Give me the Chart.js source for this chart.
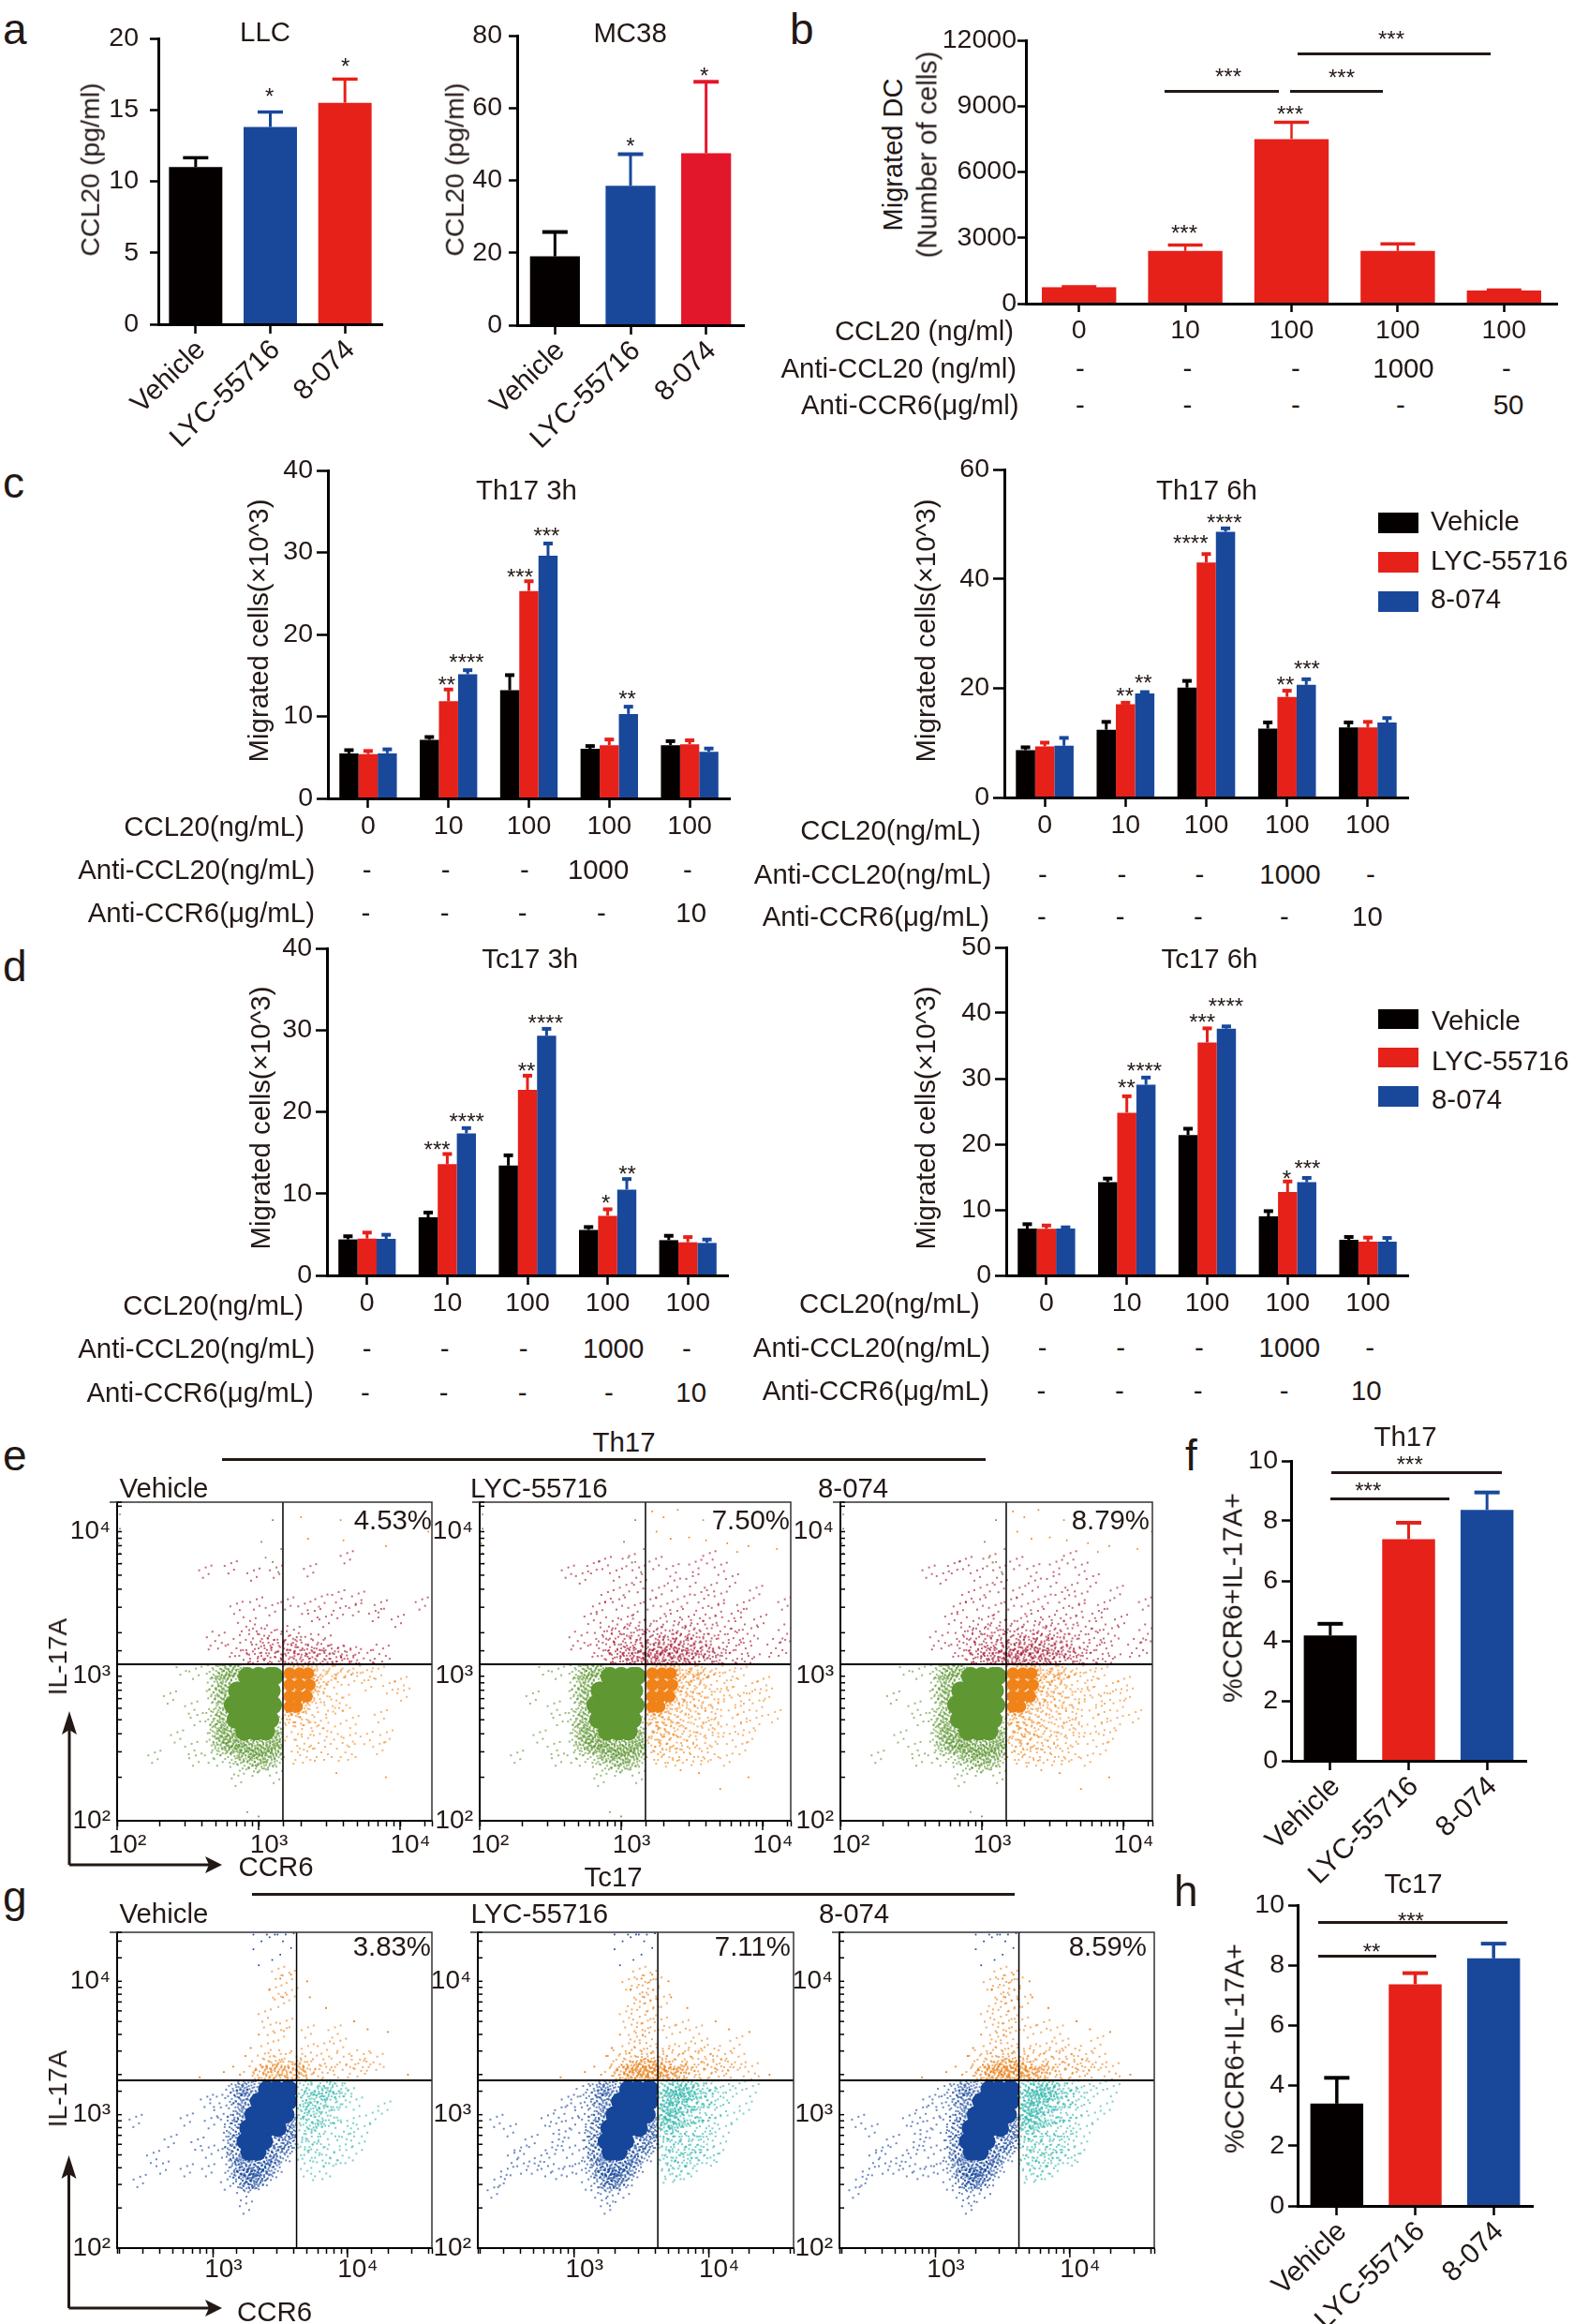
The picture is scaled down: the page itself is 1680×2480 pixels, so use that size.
<!DOCTYPE html>
<html><head><meta charset="utf-8">
<script src="https://cdn.jsdelivr.net/npm/chart.js@4"></script>
<style>
html,body{margin:0;background:#fff}
#page{position:relative;width:1680px;height:2480px;overflow:hidden;font-family:"Liberation Sans",Arial,sans-serif}
canvas{position:absolute}
.t{position:absolute;white-space:pre;line-height:1;color:#231815}
.b{position:absolute;background:#231815}
svg{position:absolute;left:0;top:0}
</style></head><body><div id="page"></div>
<script>
/* ---------- data ---------- */
const treatments=['Vehicle','LYC-55716','8-074'];
const llcMean=[11,13.8,15.5], llcTop=[11.7,14.9,17.2];
const mcMean=[19,38.5,47.5], mcTop=[26,47.5,67.5];
const dcDoses=['0','10','100','100','100'];
const dcMean=[750,2400,7500,2400,600], dcTop=[800,2700,8300,2750,650];
const dcRow2=['-','-','-','1000','-'], dcRow3=['-','-','-','-','50'];
const doses=['0','10','100','100','100'];
const antiCcl=['-','-','-','1000','-'], antiCcr=['-','-','-','-','10'];

const th3V=[5.5,7.15,13.2,6.05,6.5], th3VTop=[6,7.6,15.15,6.5,7.1];
const th3R=[5.4,11.85,25.3,6.5,6.6], th3RTop=[5.9,13.4,26.6,7.3,7.2];
const th3B=[5.5,15.15,29.6,10.3,5.7], th3BTop=[6.1,15.75,31.2,11.3,6.2];

const th6V=[8.67,12.4,20.1,12.6,12.8], th6VTop=[9.35,14,21.5,13.9,13.9];
const th6R=[9.35,17.05,43,18.4,12.8], th6RTop=[10.2,17.5,44.7,19.7,14];
const th6B=[9.47,19.05,48.6,20.6,13.7], th6BTop=[11.07,19.45,49.4,21.8,14.7];

const tc3V=[4.4,7.1,13.43,5.57,4.31], tc3VTop=[4.9,7.8,14.8,6.03,4.96];
const tc3R=[4.5,13.6,22.7,7.29,4.05], tc3RTop=[5.35,14.96,24.54,8.2,4.8];
const tc3B=[4.47,17.37,29.3,10.5,3.97], tc3BTop=[5.08,18.13,30.27,11.9,4.5];

const tc6V=[7.14,14.2,21.4,9,5.42], tc6VTop=[7.95,14.9,22.5,9.94,6];
const tc6R=[7.09,24.8,35.5,12.7,5.14], tc6RTop=[7.75,27.45,37.8,14.46,5.9];
const tc6B=[7.14,29.07,37.6,14.2,5.14], tc6BTop=[7.47,30.3,38.1,15,5.85];

const fMean=[4.18,7.39,8.37], fTop=[4.6,7.97,8.98];
const hMean=[3.4,7.37,8.23], hTop=[4.29,7.77,8.75];

const thPercent=['4.53%','7.50%','8.79%'], tcPercent=['3.83%','7.11%','8.59%'];
const decadeLabels={100:'10\u00b2',1000:'10\u00b3',10000:'10\u2074'};

/* flow cytometry event clusters, as log10(CCR6), log10(IL-17A) */
const thGreenCore=[2.92,3.0,3.0,3.0,3.08,3.0,3.11,3.0,2.85,2.9,2.93,2.9,3.01,2.9,3.09,2.9,2.82,2.8,2.9,2.8,2.98,2.8,3.06,2.8,3.1,2.8,2.84,2.7,2.92,2.7,3.0,2.7,3.08,2.7,2.9,2.62,2.98,2.62,3.05,2.62];
const thOrangeCore=[3.22,3.02,3.29,3.02,3.35,3.02,3.22,2.94,3.29,2.94,3.36,2.94,3.22,2.86,3.28,2.86,3.34,2.86,3.22,2.79,3.27,2.79];
const thGreenFringe=[2.74,3.02,2.76,2.95,2.71,2.88,2.78,2.84,2.73,2.79,2.69,2.72,2.77,2.7,2.72,2.64,2.78,2.6,2.75,2.56,2.81,2.53,2.84,2.57,2.87,2.49,2.9,2.53,2.93,2.47,2.96,2.5,2.99,2.45,3.02,2.52,3.05,2.47,3.08,2.55,3.12,2.5,3.15,2.58,3.14,2.66,2.79,3.05,2.82,3.07,2.7,2.93,2.74,2.52,2.83,2.46,2.92,2.42,3.0,2.4,3.06,2.42,3.11,2.44,2.8,3.02,2.76,2.88,2.74,2.68,2.8,2.56,2.86,2.54,2.98,2.52,3.1,2.56,3.16,2.52,2.7,3.05,2.7,2.58,2.86,3.06];
const thGreenDots=[2.55,3.02,2.5,2.94,2.46,3.05,2.58,2.86,2.52,2.78,2.44,2.8,2.56,2.7,2.5,2.62,2.42,2.58,2.58,2.56,2.52,2.5,2.3,2.62,2.26,2.44,2.45,2.45,2.55,2.42,2.62,2.5,2.66,2.44,2.6,2.38,2.72,2.42,2.78,2.38,2.84,2.36,2.9,2.33,2.97,2.35,3.07,2.33,3.12,2.3,2.95,2.22,2.85,2.28,2.34,2.98,2.37,2.85];
const thGreenTop=[2.92,2.06,3.0,2.03,3.1,4.08,3.02,3.93,3.05,3.82,3.1,3.79,3.14,3.72,3.16,3.88,2.02,4.12,2.02,4.02,2.01,3.92,2.02,3.85,2.03,3.78];
const thOrangeDots=[3.18,2.72,3.21,2.68,3.24,2.74,3.27,2.65,3.3,2.72,3.33,2.62,3.36,2.7,3.39,2.78,3.42,2.98,3.45,2.84,3.48,3.02,3.5,2.9,3.53,2.8,3.56,2.95,3.59,3.05,3.62,2.86,3.65,2.98,3.68,2.78,3.71,3.04,3.74,2.88,3.77,2.94,3.8,2.75,3.84,3.02,3.88,2.85,3.92,2.92,3.97,2.8,4.02,2.87,4.08,2.72,3.42,2.9,3.46,2.74,3.4,2.84,3.44,3.05,3.52,2.98,3.55,3.03,3.58,2.82,3.62,2.72,3.66,2.68,3.7,2.88,3.76,3.01,3.82,2.84,3.86,2.72,3.95,2.68,4.0,2.95,3.2,2.58,3.24,2.62,3.28,2.55,3.33,2.54,3.38,2.6,3.42,2.66,3.47,2.56,3.52,2.62,3.58,2.65,3.64,2.56,3.7,2.62,3.76,2.57,3.84,2.64,3.9,2.58,3.22,2.48,3.3,2.46,3.37,2.44,3.45,2.48,3.55,2.45,3.62,2.48,3.74,2.42,3.85,2.5,3.35,3.06,3.42,3.06,3.5,3.06,3.6,3.06];
const thOrangeFar=[3.18,2.44,3.42,2.35,3.55,2.33,3.7,2.22,3.9,2.3,3.25,4.0,3.35,3.95,3.48,3.96,3.6,3.94,3.75,3.92,3.9,3.9,4.1,3.88,3.3,4.1,3.4,4.15,4.2,4.0,3.22,4.14,3.58,4.08,3.82,3.86];
const thRedDots=[2.9,3.12,2.95,3.1,2.98,3.16,3.02,3.11,3.05,3.2,3.08,3.13,3.1,3.1,3.13,3.18,3.15,3.11,3.18,3.1,3.2,3.15,3.22,3.11,3.24,3.22,3.26,3.13,3.28,3.1,3.3,3.17,3.32,3.12,3.34,3.26,3.36,3.1,3.38,3.15,3.4,3.2,3.42,3.11,3.44,3.16,3.46,3.28,3.48,3.12,3.5,3.19,3.53,3.1,3.56,3.24,3.59,3.14,3.62,3.3,3.65,3.11,3.7,3.2,3.75,3.13,3.8,3.27,3.86,3.16,3.92,3.1,2.85,3.2,2.88,3.28,2.92,3.35,2.96,3.24,3.0,3.3,3.04,3.38,3.07,3.27,3.11,3.34,3.14,3.26,3.19,3.33,3.23,3.29,3.27,3.37,3.31,3.24,3.35,3.32,3.39,3.42,3.43,3.3,3.47,3.38,3.52,3.33,3.57,3.44,3.62,3.37,3.68,3.46,3.74,3.35,3.82,3.42,3.9,3.3,3.98,3.38,4.1,3.2,2.7,3.25,2.78,3.4,2.84,3.47,2.9,3.55,2.98,3.5,3.03,3.6,3.09,3.46,3.13,3.62,3.2,3.5,3.26,3.58,3.32,3.47,3.37,3.63,3.44,3.52,3.5,3.66,3.56,3.55,3.63,3.6,3.7,3.54,3.78,3.66,3.86,3.48,3.95,3.58,4.15,3.5,4.18,3.3,2.62,3.72,2.72,3.68,2.8,3.75,2.88,3.78,2.96,3.7,3.05,3.8,3.12,3.72,3.24,3.78,3.36,3.73,3.52,3.76,3.62,3.82,3.7,3.74,3.0,3.13,3.06,3.12,3.12,3.14,3.17,3.17,3.21,3.19,3.25,3.12,3.29,3.16,3.33,3.21,3.37,3.13,3.41,3.14,3.45,3.23,3.49,3.1,3.54,3.16,3.58,3.21,3.63,3.15,3.68,3.11];
const tcBlueCore=[3.40,3.19,3.47,3.19,3.55,3.19,3.565,3.19,3.34,3.1,3.42,3.1,3.5,3.1,3.56,3.1,3.3,3.0,3.38,3.0,3.46,3.0,3.54,3.0,3.26,2.9,3.33,2.9,3.41,2.9,3.48,2.9,3.24,2.8,3.31,2.8,3.38,2.8,3.27,2.72,3.33,2.72];
const tcTealCore=[3.66,3.2,3.66,3.12,3.66,3.04,3.72,3.2,3.72,3.1,3.78,3.2,3.78,3.11,3.7,3.02,3.84,3.18,3.66,2.96,3.74,2.96];
const tcBlueFringe=[3.25,3.22,3.28,3.18,3.22,3.12,3.25,3.05,3.18,3.02,3.21,2.97,3.15,2.9,3.18,2.84,3.14,2.78,3.17,2.72,3.19,2.64,3.23,2.6,3.28,2.58,3.33,2.62,3.38,2.66,3.42,2.7,3.46,2.76,3.52,2.8,3.56,2.85,3.6,2.9,3.58,2.78,3.5,2.7,3.44,2.62,3.36,2.56,3.3,2.52,3.24,2.55,3.2,2.7,3.16,3.16,3.2,3.2,3.16,2.6,3.22,2.52,3.27,2.49,3.33,2.52,3.4,2.58,3.52,2.92,3.56,2.95];
const tcBlueDots=[2.95,3.1,2.9,3.02,2.98,2.94,2.86,2.9,2.8,2.96,2.93,2.84,2.88,2.78,2.83,2.72,2.96,2.72,2.75,2.66,2.68,2.8,2.6,2.72,2.55,2.68,2.7,2.6,2.8,2.58,2.88,2.56,2.96,2.58,3.03,2.6,2.62,2.6,2.5,2.56,2.45,2.5,2.4,2.42,2.42,2.95,2.52,2.88,3.1,2.48,3.17,2.42,3.22,2.4,3.28,2.36,3.24,2.3,3.38,2.42,3.1,2.95,3.08,2.85,3.05,3.02,3.12,3.08,3.08,2.72,3.1,2.64,3.02,3.1,3.06,3.18];
const tcBlueTop=[3.3,4.24,3.36,4.3,3.42,4.33,3.48,4.35,3.52,4.3,3.5,4.2,3.44,4.16,3.58,4.25,3.34,4.12,3.54,4.35,3.6,4.36,3.3,4.35,3.4,4.35,3.46,4.35];
const tcTealDots=[3.63,3.0,3.65,2.9,3.67,2.82,3.69,2.97,3.72,2.9,3.74,3.04,3.76,2.8,3.78,2.97,3.8,3.22,3.82,3.08,3.84,2.88,3.86,3.17,3.88,3.0,3.9,2.74,3.92,3.1,3.94,2.92,3.96,3.2,3.98,3.02,4.0,2.82,4.02,3.12,4.04,2.94,4.06,3.22,4.08,2.75,4.1,3.04,4.12,2.88,4.15,3.15,4.18,2.98,4.22,3.2,4.27,3.05,4.32,3.18,3.64,2.76,3.68,2.7,3.72,2.74,3.76,2.66,3.8,2.72,3.84,2.62,3.88,2.68,3.92,2.78,3.97,2.7,4.03,2.66,3.66,2.6,3.72,2.56,3.8,2.58,3.78,2.88,3.82,2.98,3.86,2.78,3.9,3.18,3.94,3.02,3.98,2.88,4.02,3.22,4.06,3.08,4.1,3.18,3.74,3.24,3.84,3.23,3.92,3.24,3.68,2.88,3.74,2.95,3.8,3.06,3.86,3.0,3.7,3.15,3.76,3.16,3.82,3.16,3.88,3.12,3.95,3.13,4.0,3.15];
const tcOrangeDots=[3.3,3.3,3.35,3.27,3.38,3.31,3.41,3.28,3.44,3.34,3.47,3.27,3.5,3.3,3.53,3.37,3.56,3.28,3.59,3.33,3.62,3.27,3.65,3.3,3.68,3.36,3.71,3.27,3.74,3.31,3.77,3.28,3.8,3.38,3.83,3.27,3.86,3.32,3.9,3.29,3.95,3.4,4.0,3.28,4.06,3.35,4.12,3.3,4.2,3.4,4.3,3.33,3.44,3.4,3.48,3.44,3.52,3.42,3.56,3.48,3.6,3.4,3.64,3.44,3.7,3.48,3.76,3.42,3.82,3.5,3.88,3.44,3.94,3.52,4.02,3.46,4.1,3.42,4.2,3.54,3.36,3.38,3.32,3.42,3.4,3.5,3.46,3.55,3.5,3.6,3.55,3.58,3.42,3.64,3.48,3.7,3.54,3.67,3.58,3.76,3.38,3.74,3.44,3.8,3.5,3.85,3.56,3.82,3.46,3.92,3.52,3.96,3.58,3.9,3.4,3.98,3.56,4.03,3.6,3.98,3.48,4.06,3.64,3.68,3.7,3.62,3.8,3.66,3.9,3.62,3.66,3.85];
const tcOrangeFar=[3.72,3.88,3.84,3.8,3.7,4.0,4.05,3.7,4.3,3.62,4.15,3.64,3.08,3.32,3.15,3.36,3.2,3.3,3.24,3.44,3.28,3.5,2.9,3.28,3.34,3.6,4.45,3.3,3.58,4.05,3.5,4.02,3.42,3.94,3.52,3.88];
const tcOrangeBand=[3.36,3.29,3.43,3.29,3.5,3.29,3.57,3.29,3.64,3.29,3.71,3.29,3.46,3.34,3.54,3.35,3.62,3.34,3.78,3.29];

/* speckle sprites: each typed cluster above stands for a small clump of events */
const speckleDense=[-9,-4,-7,3,-6,-8,-4,-1,-3,6,-2,-5,0,2,1,-9,1,8,2,-3,3,4,4,-7,5,0,6,6,7,-4,8,2,9,-8,-10,5,-1,10,5,-10,-5,9,10,7];
const speckleMid=[-10,-3,-6,6,-4,-9,-1,1,2,9,3,-5,6,3,9,-8,10,6,-8,10];
const speckleSparse=[-6,-2,-2,6,1,-5,4,2,7,-7];

const pairs=(flat,step=1)=>{const out=[];for(let i=0,n=0;i<flat.length;i+=2,n++)if(n%step===0)out.push({x:Math.pow(10,flat[i]),y:Math.pow(10,flat[i+1])});return out};

/* ---------- helpers ---------- */
const page=document.getElementById('page');
const BLACK='#040000',RED='#e5211a',BLUE='#19489b',TXT='#231815';
const FONT='"Liberation Sans"';
function T(str,x,y,o={}){const {s=29.4,a='c',rot=0}=o;const d=document.createElement('div');d.className='t';d.textContent=str;d.style.fontSize=s+'px';d.style.left=x+'px';d.style.top=y+'px';const tx=a==='c'?'-50%':a==='r'?'-100%':'0';d.style.transform=`translate(${tx},-50%)`+(rot?` rotate(${rot}deg)`:'');page.appendChild(d)}
function star(str,x,y){T(str,x,y+5.5,{s:24})}
function rule(x1,x2,y,h=3){const d=document.createElement('div');d.className='b';d.style.cssText+=`left:${x1}px;top:${y-h/2}px;width:${x2-x1}px;height:${h}px`;page.appendChild(d)}
function swatch(x,y,w,h,c){const d=document.createElement('div');d.style.cssText=`position:absolute;left:${x}px;top:${y}px;width:${w}px;height:${h}px;background:${c}`;page.appendChild(d)}
function canvasFor(L,Tp,R,B,m){const c=document.createElement('canvas');c.width=R-L+m.l+m.r;c.height=B-Tp+m.t+m.b;c.style.left=(L-m.l)+'px';c.style.top=(Tp-m.t)+'px';c.style.width=c.width+'px';c.style.height=c.height+'px';page.appendChild(c);return c}
function sprite(pattern,color){const c=document.createElement('canvas');c.width=c.height=26;const g=c.getContext('2d');g.fillStyle=color;for(let i=0;i<pattern.length;i+=2)g.fillRect(13+pattern[i]-.8,13+pattern[i+1]-.8,1.6,1.6);return c}

function axes(c,m){return {
 x:{offset:true,afterFit:s=>{s.height=m.b},border:{display:true,color:'#000',width:3,z:1},grid:{drawOnChartArea:false,drawTicks:true,tickLength:c.xTick||10,tickWidth:2.5,tickColor:'#000',offset:false},
    ticks:{color:TXT,font:{family:FONT,size:c.rotated?30:28.5},padding:c.rotated?0:3,labelOffset:c.rotated?6:0,autoSkip:false,minRotation:c.rotated?44:0,maxRotation:c.rotated?44:0}},
 y:{min:0,max:c.max,afterFit:s=>{s.width=m.l},border:{display:true,color:'#000',width:3,z:1},grid:{drawOnChartArea:false,drawTicks:true,tickLength:c.yTick||10,tickWidth:2.5,tickColor:'#000'},
    ticks:{stepSize:c.step,color:TXT,font:{family:FONT,size:28.5},padding:c.pad,autoSkip:false,callback:v=>String(v)}}
}}
function capPlugin(c){return {id:'errCaps',afterDatasetsDraw(ch){const g=ch.ctx,y=ch.scales.y;ch.data.datasets.forEach((ds,i)=>{ch.getDatasetMeta(i).data.forEach((bar,j)=>{const top=y.getPixelForValue(ds.errTop[j]);const col=Array.isArray(ds.backgroundColor)?ds.backgroundColor[j]:ds.backgroundColor;g.save();g.strokeStyle=col;g.lineWidth=c.lw;g.beginPath();g.moveTo(bar.x,bar.y);g.lineTo(bar.x,top);g.stroke();g.lineWidth=c.ch;g.beginPath();g.moveTo(bar.x-c.cap/2,top+c.ch/2-1);g.lineTo(bar.x+c.cap/2,top+c.ch/2-1);g.stroke();g.restore()})})}}}
function barChart(c){
 const m={l:90,t:30,r:40,b:c.rotated?170:60};
 new Chart(canvasFor(c.L,c.T,c.R,c.B,m),{type:'bar',plugins:[capPlugin(c)],data:{labels:c.labels,datasets:c.series.map(s=>({data:s.data,errTop:s.top,backgroundColor:s.color,borderWidth:0,barPercentage:1,categoryPercentage:c.cat}))},
 options:{responsive:false,animation:false,devicePixelRatio:1,layout:{padding:{top:m.t,right:m.r,left:0,bottom:0}},plugins:{legend:{display:false},tooltip:{enabled:false}},scales:axes(c,m)}});
}

const flowFrame={id:'flowFrame',afterDatasetsDraw(ch){const g=ch.ctx,a=ch.chartArea;g.save();g.strokeStyle='#333';g.lineWidth=1.5;g.beginPath();g.moveTo(a.left-8,a.top);g.lineTo(a.right,a.top);g.lineTo(a.right,a.bottom);g.stroke();g.strokeStyle='#000';
  ch.scales.y.ticks.forEach(t=>{const p=ch.scales.y.getPixelForValue(t.value);g.lineWidth=1.5;g.beginPath();g.moveTo(a.left,p);g.lineTo(a.left+5,p);g.stroke()});
  ch.scales.x.ticks.forEach(t=>{if(decadeLabels[t.value]){const p=ch.scales.x.getPixelForValue(t.value);g.lineWidth=1.5;g.beginPath();g.moveTo(p,a.bottom);g.lineTo(p,a.bottom+10);g.stroke()}});g.restore()}};

function flowPlot(c){
 const m={l:70,t:30,r:30,b:60};
 const w=c.R-c.L,h=c.B-c.T;
 const gx=Math.log(c.qx/c.xMin)/Math.log(c.xMax/c.xMin)*w, gy=h-Math.log(c.qy/c.yMin)/Math.log(c.yMax/c.yMin)*h;
 const quad={ll:{top:-gy,right:-(w-gx),bottom:0,left:0},lr:{top:-gy,right:0,bottom:0,left:-gx},u:{top:0,right:0,bottom:-(h-gy),left:0},all:{top:0,right:0,bottom:0,left:0}};
 const sets=[{data:[{x:c.qx,y:c.yMin},{x:c.qx,y:c.yMax}],showLine:true,borderColor:'#000',borderWidth:1.5,pointRadius:0},
  {data:[{x:c.xMin,y:c.qy},{x:c.xMax,y:c.qy}],showLine:true,borderColor:'#000',borderWidth:2,pointRadius:0}];
 c.layers.forEach(l=>sets.push({data:l.pts,showLine:false,pointStyle:l.shape||'rect',pointRadius:l.r,pointBorderWidth:0,backgroundColor:l.color,pointBackgroundColor:l.color,clip:quad[l.q||'all']}));
 new Chart(canvasFor(c.L,c.T,c.R,c.B,m),{type:'scatter',plugins:[flowFrame],data:{datasets:sets},options:{responsive:false,animation:false,devicePixelRatio:1,layout:{padding:{top:m.t,right:m.r,left:0,bottom:0}},
  plugins:{legend:{display:false},tooltip:{enabled:false}},
  scales:{
   x:{type:'logarithmic',min:c.xMin,max:c.xMax,afterFit:s=>{s.height=m.b},border:{display:true,color:'#000',width:2},grid:{drawOnChartArea:false,drawTicks:true,tickLength:6,tickWidth:1.5,tickColor:'#000'},
      ticks:{autoSkip:false,maxRotation:0,minRotation:0,color:TXT,font:{family:FONT,size:28},padding:c.xPad,labelOffset:11,callback:v=>decadeLabels[v]||''}},
   y:{type:'logarithmic',min:c.yMin,max:c.yMax,afterFit:s=>{s.width=m.l},border:{display:true,color:'#000',width:2},grid:{drawOnChartArea:false,drawTicks:false},
      ticks:{autoSkip:false,color:TXT,font:{family:FONT,size:28},padding:7,callback:v=>decadeLabels[v]||''}}
  }}});
}

/* ---------- panel a ---------- */
const single=(d,t,cols)=>[{data:d,top:t,color:cols}];
barChart({L:169,T:41,R:408,B:346,labels:treatments,max:20,step:5,cat:.715,lw:3,ch:3.5,cap:27,pad:12,yTick:9,rotated:true,series:single(llcMean,llcTop,[BLACK,BLUE,RED])});
barChart({L:552,T:38,R:794,B:347,labels:treatments,max:80,step:20,cat:.66,lw:3,ch:4,cap:27,pad:7,yTick:9,rotated:true,series:single(mcMean,mcTop,[BLACK,BLUE,'#e3172b'])});
T('LLC',283,34);T('MC38',672.6,35);
T('CCL20 (pg/ml)',96,181,{rot:-90,s:28.5});T('CCL20 (pg/ml)',485,181,{rot:-90,s:28.5});
star('*',287.7,97.7);star('*',368.6,65);star('*',672.8,150.7);star('*',751.6,75);
T('a',3,31,{s:46,a:'l'});

/* panel b */
barChart({L:1095,T:43,R:1662,B:324,labels:dcDoses,max:12000,step:3000,cat:.7,lw:2.5,ch:3.5,cap:37,pad:1,yTick:9,xTick:9,series:single(dcMean,dcTop,RED)});
T('Migrated DC',952.5,165,{rot:-90,s:29});T('(Number of cells)',990,165,{rot:-90,s:29});
T('CCL20 (ng/ml)',1082,353,{a:'r'});T('Anti-CCL20 (ng/ml)',1085,392.7,{a:'r'});T('Anti-CCR6(\u03bcg/ml)',1087.5,431.7,{a:'r'});
[1153,1267.5,1383,1498,1608].forEach((x,i)=>T(dcRow2[i],x,392.7));
[1153,1267.5,1383,1495,1610].forEach((x,i)=>T(dcRow3[i],x,431.7));
star('***',1311,76);star('***',1432,77);star('***',1485,36.7);star('***',1377,116.7);star('***',1264,243);
rule(1243.4,1365.5,97);rule(1376.8,1475.9,97);rule(1385,1591,57.7);
T('b',843,31,{s:46,a:'l'});

/* panels c, d */
const ser=(a,b,c,d,e,f)=>[{data:a,top:b,color:BLACK},{data:c,top:d,color:RED},{data:e,top:f,color:BLUE}];
const grp={cat:.715,lw:3,ch:4,cap:10,pad:4,yTick:12};
barChart({...grp,L:350,T:502,R:779,B:852,labels:doses,max:40,step:10,series:ser(th3V,th3VTop,th3R,th3RTop,th3B,th3BTop)});
barChart({...grp,L:1072,T:501,R:1503,B:851,labels:doses,max:60,step:20,series:ser(th6V,th6VTop,th6R,th6RTop,th6B,th6BTop)});
barChart({...grp,L:349,T:1012,R:777,B:1361,labels:doses,max:40,step:10,series:ser(tc3V,tc3VTop,tc3R,tc3RTop,tc3B,tc3BTop)});
barChart({...grp,L:1074,T:1011,R:1503,B:1361,labels:doses,max:50,step:10,series:ser(tc6V,tc6VTop,tc6R,tc6RTop,tc6B,tc6BTop)});

function rows(xsA,yA,xsB,yB){xsA.forEach((x,i)=>T(antiCcl[i],x,yA));xsB.forEach((x,i)=>T(antiCcr[i],x,yB))}
T('c',3,515,{s:46,a:'l'});
T('Th17 3h',562,522.7);T('Migrated cells(\u00d710^3)',276,672.7,{rot:-90});
T('CCL20(ng/mL)',325,881.7,{a:'r'});T('Anti-CCL20(ng/mL)',336.4,927.7,{a:'r'});T('Anti-CCR6(\u03bcg/mL)',336,974,{a:'r'});
rows([391.6,475.7,559.8,638.6,733.9],927.7,[390.5,474.6,557.7,641.8,737.7],974);
star('**',476.8,725.7);star('****',498,701);star('***',555,610.7);star('***',583.4,566.7);star('**',669.6,740.3);

T('Th17 6h',1288,522.7);T('Migrated cells(\u00d710^3)',988,672.7,{rot:-90});
T('CCL20(ng/mL)',1047,885.7,{a:'r'});T('Anti-CCL20(ng/mL)',1058,932.7,{a:'r'});T('Anti-CCR6(\u03bcg/mL)',1056,978,{a:'r'});
rows([1113,1197.3,1280.4,1377,1463],932.7,[1112,1195.6,1279,1371,1459.4],978);
star('**',1200.7,737.7);star('**',1220.3,723.3);star('****',1270.8,574.3);star('****',1306.8,552.7);star('**',1371.9,725.7);star('***',1394.9,708.3);
swatch(1471,547,43,22,BLACK);swatch(1471,589,43,22,RED);swatch(1471,631,43,22,BLUE);
T(treatments[0],1527,556,{a:'l'});T(treatments[1],1527,598.3,{a:'l'});T(treatments[2],1527,639,{a:'l'});

T('d',3,1031,{s:46,a:'l'});
T('Tc17 3h',565.7,1023.3);T('Migrated cells(\u00d710^3)',277.5,1193,{rot:-90});
T('CCL20(ng/mL)',324,1392.7,{a:'r'});T('Anti-CCL20(ng/mL)',336.4,1439.3,{a:'r'});T('Anti-CCR6(\u03bcg/mL)',334.8,1485.7,{a:'r'});
rows([391.6,474.6,558.7,654.6,732.8],1439.3,[390,473.6,557.7,649.8,737.7],1485.7);
star('***',466.6,1221.7);star('****',498.2,1191.3);star('**',562,1137.3);star('****',582.3,1086.7);star('*',646.6,1278.3);star('**',669.6,1247.3);

T('Tc17 6h',1291,1023.3);T('Migrated cells(\u00d710^3)',988,1193,{rot:-90});
T('CCL20(ng/mL)',1045.8,1390.7,{a:'r'});T('Anti-CCL20(ng/mL)',1057,1437.7,{a:'r'});T('Anti-CCR6(\u03bcg/mL)',1056,1484.3,{a:'r'});
rows([1112.6,1196.2,1279.8,1376.3,1462.2],1437.7,[1111.5,1195,1278.7,1370.7,1458.3],1484.3);
star('**',1202.4,1155.7);star('****',1221.5,1137.7);star('***',1283.2,1085.7);star('****',1308.4,1068.3);star('*',1373.5,1252.3);star('***',1395.4,1241.7);
swatch(1471,1077,43,21,BLACK);swatch(1471,1118,43,21,RED);swatch(1471,1159,43,22,BLUE);
T(treatments[0],1528,1089.3,{a:'l'});T(treatments[1],1528,1131.7,{a:'l'});T(treatments[2],1528,1173.3,{a:'l'});

/* panel e */
const GREEN='#5f9732',ORANGE='#f0831a',CRIMSON='#a5162f',NAVY='#16469a',TEAL='#2fb7ab',TCOR='#e8821f';
const lowerThan=(pts,lim)=>pts.filter(p=>p.y<lim), higherThan=(pts,lim)=>pts.filter(p=>p.y>=lim);
const leftOf=(pts,lim)=>pts.filter(p=>p.x<lim), rightOf=(pts,lim)=>pts.filter(p=>p.x>=lim);
const thFrames=[[125,461],[512,844],[897,1230]];
const thStep=[2,1,1];
thFrames.forEach(([L,R],i)=>{const st=thStep[i];const red=pairs(thRedDots,st),org=pairs(thOrangeDots,st);flowPlot({L,T:1603,R,B:1943,xMin:100,xMax:Math.pow(10,2+(R-L)/151),yMin:100,yMax:16000,qx:1486,qy:1210,xPad:3,layers:[
 {pts:lowerThan(red,2300),r:13,color:CRIMSON,shape:sprite(speckleMid,CRIMSON),q:'u'},
 {pts:higherThan(red,2300),r:13,color:CRIMSON,shape:sprite(speckleSparse,CRIMSON),q:'u'},
 {pts:pairs(thOrangeCore),r:13,color:ORANGE,shape:sprite(speckleDense,ORANGE),q:'lr'},
 {pts:pairs(thOrangeCore),r:6.5,color:ORANGE,shape:'circle',q:'lr'},
 {pts:leftOf(org,4200),r:13,color:ORANGE,shape:sprite(speckleMid,'#ef8a22'),q:'lr'},
 {pts:rightOf(org,4200),r:13,color:ORANGE,shape:sprite(speckleSparse,'#ef8a22'),q:'lr'},
 {pts:pairs(thOrangeFar,st),r:1.2,color:ORANGE},
 {pts:pairs(thGreenCore),r:10,color:GREEN,shape:'circle',q:'ll'},
 {pts:pairs(thGreenFringe),r:13,color:GREEN,shape:sprite(speckleDense,GREEN),q:'ll'},
 {pts:pairs(thGreenDots,2),r:13,color:GREEN,shape:sprite(speckleSparse,GREEN),q:'ll'},
 {pts:pairs(thGreenTop),r:1.2,color:GREEN}]})});
treatments.forEach((s,i)=>T(s,[127.5,502,873][i],1587.7,{a:'l'}));
thPercent.forEach((s,i)=>T(s,[461,843,1227][i],1622,{a:'r'}));
T('Th17',666,1539);rule(237.3,1051.6,1557,3);T('e',3,1553,{s:46,a:'l'});
T('IL-17A',61.6,1768,{rot:-90,s:28});T('CCR6',294.6,1991.7);

/* panel f, h */
barChart({L:1378,T:1559,R:1629,B:1879,labels:treatments,max:10,step:2,cat:.675,lw:3,ch:4,cap:27,pad:4,rotated:true,series:single(fMean,fTop,[BLACK,RED,BLUE])});
T('Th17',1500,1532.7);T('%CCR6+IL-17A+',1315.7,1705,{rot:-90,s:29});T('f',1265,1553,{s:46,a:'l'});
rule(1420.9,1603.4,1571);rule(1419.8,1546.8,1599);star('***',1504.8,1557.3);star('***',1460.3,1585.7);

barChart({L:1385,T:2033,R:1636,B:2354,labels:treatments,max:10,step:2,cat:.675,lw:3.5,ch:4,cap:27,pad:4,rotated:true,series:single(hMean,hTop,[BLACK,RED,BLUE])});
T('Tc17',1508.6,2010);T('%CCR6+IL-17A+',1318.4,2186,{rot:-90,s:29});T('h',1253,2018,{s:46,a:'l'});
rule(1406.8,1609.3,2051.7);rule(1406.8,1532.7,2087.3);star('***',1505.9,2044.3);star('**',1464,2077.7);

/* panel g */
const tcFrames=[[125,461],[510,847],[896,1232]];
const tcStep=[2,1,1];
tcFrames.forEach(([L,R],i)=>{const st=tcStep[i];const org=pairs(tcOrangeDots,st),teal=pairs(tcTealDots,st);flowPlot({L,T:2062,R,B:2399,xMin:193,xMax:42500,yMin:100,yMax:23300,qx:4180,qy:1812,xPad:0,layers:[
 {pts:pairs(tcOrangeBand,st),r:13,color:TCOR,shape:sprite(speckleDense,TCOR),q:'u'},
 {pts:lowerThan(org,2900),r:13,color:TCOR,shape:sprite(speckleMid,TCOR),q:'u'},
 {pts:higherThan(org,2900),r:13,color:TCOR,shape:sprite(speckleSparse,TCOR),q:'u'},
 {pts:pairs(tcOrangeFar),r:1.3,color:TCOR},
 {pts:pairs(tcTealCore,st),r:13,color:TEAL,shape:sprite(speckleDense,TEAL),q:'lr'},
 {pts:leftOf(teal,10000),r:13,color:TEAL,shape:sprite(speckleMid,TEAL),q:'lr'},
 {pts:rightOf(teal,10000),r:13,color:TEAL,shape:sprite(speckleSparse,TEAL),q:'lr'},
 {pts:pairs(tcBlueCore),r:9.5,color:NAVY,shape:'circle',q:'ll'},
 {pts:pairs(tcBlueFringe),r:13,color:NAVY,shape:sprite(speckleDense,NAVY),q:'ll'},
 {pts:pairs(tcBlueDots,st),r:13,color:NAVY,shape:sprite(speckleSparse,NAVY),q:'ll'},
 {pts:pairs(tcBlueTop),r:1.2,color:NAVY}]})});
treatments.forEach((s,i)=>T(s,[127.5,502.5,874][i],2041.7,{a:'l'}));
tcPercent.forEach((s,i)=>T(s,[460,844,1224][i],2077,{a:'r'}));
T('Tc17',654.6,2003);rule(269,1082.7,2021,3);T('g',3,2024,{s:46,a:'l'});
T('IL-17A',61.6,2229,{rot:-90,s:28});T('CCR6',293,2466.7);

/* arrows */
const NS='http://www.w3.org/2000/svg';const svg=document.createElementNS(NS,'svg');svg.setAttribute('width',1680);svg.setAttribute('height',2480);
svg.innerHTML='<g fill="none" stroke="#231815" stroke-width="3"><path d="M74 1990V1835M74 1990H228M73.5 2463V2308M73.5 2463H228"/></g><g fill="#231815"><path d="M74 1826l-8 25 8-5 8 5zM237 1990l-18-9 4 9-4 9zM73.5 2300l-8 25 8-5 8 5zM237 2463l-18-9 4 9-4 9z"/></g>';
page.appendChild(svg);
</script>
</body></html>
